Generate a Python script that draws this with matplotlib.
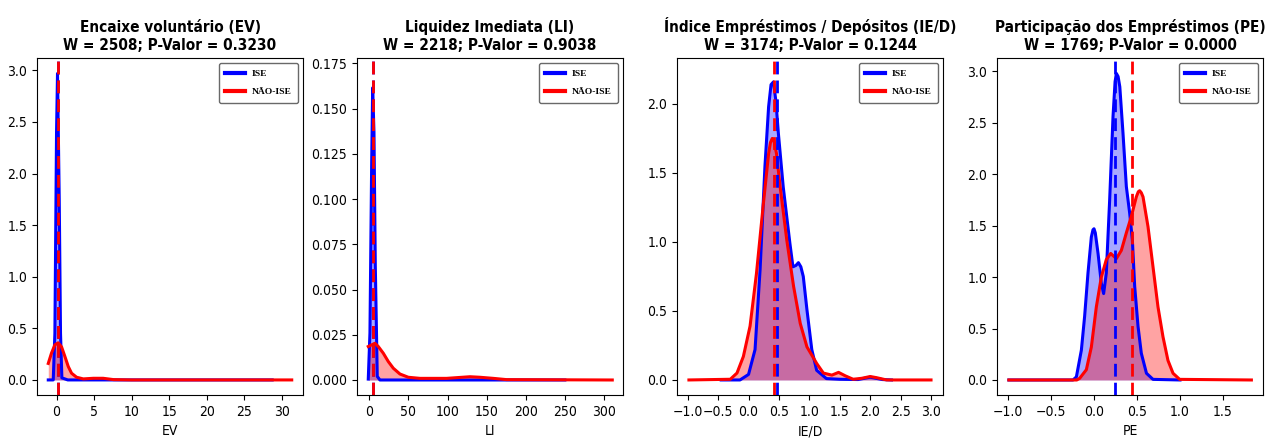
import numpy as np
import matplotlib
matplotlib.use("Agg")
import matplotlib.pyplot as plt

plt.rcParams['font.family'] = ['DejaVu Sans']
plt.rcParams['font.stretch'] = 'condensed'

# Titulos e estatisticas
titulos = ['Encaixe voluntário (EV)', 'Liquidez Imediata (LI)',
           'Índice Empréstimos / Depósitos (IE/D)', 'Participação dos Empréstimos (PE)']
rotulos = ['EV', 'LI', 'IE/D', 'PE']
w_stat = [2508, 2218, 3174, 1769]
p_valor = [0.3230, 0.9038, 0.1244, 0.0000]

# Densidades (x, densidade)
ev_ise_x = [-1.1, -0.44, -0.22, 0.0, 0.13, 0.36, 0.53, 0.71, 1.5, 28.7]
ev_ise_y = [0, 0, 0.45, 2.4, 2.97, 1.75, 0.45, 0.02, 0.0, 0.0]
ev_nao_x = [-1.1, -0.67, -0.22, 0.22, 0.67, 1.1, 1.56, 2.0, 2.67, 3.56, 4.9, 6.2, 7.6, 10, 31.3]
ev_nao_y = [0.16, 0.26, 0.34, 0.36, 0.32, 0.23, 0.13, 0.065, 0.026, 0.01, 0.016, 0.016, 0.003, 0.0, 0.0]

li_ise_x = [-1.3, 0.85, 3.0, 4.3, 6.0, 7.7, 10.2, 13.6, 250]
li_ise_y = [0.0005, 0.026, 0.118, 0.1615, 0.137, 0.063, 0.002, 0.0, 0.0]
li_nao_x = [-1.3, 3.0, 7.2, 11.5, 17.9, 24.3, 30.7, 39.2, 49.9, 64.8, 98.8, 128.7, 141.5, 158.5, 175.5, 310.6]
li_nao_y = [0.0185, 0.0194, 0.0203, 0.0185, 0.0148, 0.0102, 0.0065, 0.0033, 0.0015, 0.0009,
            0.0009, 0.0018, 0.0015, 0.0009, 0.0002, 0.0]

ied_ise_x = [-0.45, -0.14, 0.0, 0.107, 0.19, 0.27, 0.33, 0.37, 0.41, 0.45, 0.49, 0.57, 0.68, 0.73, 0.78, 0.82,
             0.86, 0.90, 0.96, 1.04, 1.12, 1.28, 1.5, 1.8, 2.0, 2.2, 2.35]
ied_ise_y = [0, 0, 0.04, 0.22, 0.80, 1.55, 1.98, 2.14, 2.16, 2.02, 1.79, 1.40, 0.99, 0.82, 0.83, 0.85,
             0.82, 0.75, 0.51, 0.22, 0.07, 0.01, 0.005, 0.003, 0.02, 0.003, 0]
ied_nao_x = [-0.98, -0.30, -0.19, -0.085, 0.025, 0.13, 0.24, 0.33, 0.36, 0.39, 0.42, 0.46, 0.52, 0.63, 0.74,
             0.85, 0.96, 1.04, 1.12, 1.23, 1.37, 1.48, 1.59, 1.72, 1.86, 2.0, 2.1, 2.27, 3.0]
ied_nao_y = [0, 0.005, 0.05, 0.17, 0.39, 0.77, 1.26, 1.64, 1.72, 1.75, 1.73, 1.64, 1.40, 1.01, 0.68,
             0.41, 0.24, 0.18, 0.12, 0.05, 0.035, 0.055, 0.03, 0.005, 0.012, 0.025, 0.017, 0, 0]

pe_ise_x = [-0.99, -0.244, -0.205, -0.147, -0.109, -0.07, -0.031, -0.012, 0.0, 0.015, 0.047, 0.085, 0.112,
            0.143, 0.182, 0.221, 0.245, 0.26, 0.28, 0.30, 0.337, 0.376, 0.415, 0.446, 0.473, 0.512, 0.55,
            0.61, 0.686, 1.0]
pe_ise_y = [0, 0, 0.03, 0.29, 0.62, 1.04, 1.39, 1.46, 1.47, 1.43, 1.23, 0.94, 0.84,
            1.04, 1.75, 2.56, 2.90, 2.98, 2.95, 2.85, 2.40, 1.88, 1.62, 1.36, 0.91, 0.52, 0.26,
            0.065, 0.006, 0]
pe_nao_x = [-0.99, -0.2, -0.167, -0.089, -0.031, 0.027, 0.085, 0.143, 0.194, 0.26, 0.318, 0.376,
            0.434, 0.492, 0.515, 0.531, 0.55, 0.57, 0.628, 0.686, 0.744, 0.802, 0.86, 0.919, 0.996, 1.83]
pe_nao_y = [0, 0, 0.016, 0.10, 0.32, 0.71, 1.0, 1.17, 1.23, 1.18, 1.26, 1.43,
            1.59, 1.78, 1.83, 1.84, 1.82, 1.78, 1.49, 1.10, 0.71, 0.42, 0.19, 0.065, 0.006, 0]

# Medianas (linhas tracejadas)
mediana_ise = [0.18, 4.6, 0.463, 0.24]
mediana_nao = [0.22, 5.1, 0.425, 0.446]

curvas = [
    (ev_ise_x, ev_ise_y, ev_nao_x, ev_nao_y),
    (li_ise_x, li_ise_y, li_nao_x, li_nao_y),
    (ied_ise_x, ied_ise_y, ied_nao_x, ied_nao_y),
    (pe_ise_x, pe_ise_y, pe_nao_x, pe_nao_y),
]
xlims = [(-2.6, 32.8), (-15.7, 324.3), (-1.176, 3.197), (-1.128, 1.965)]
ylims = [(-0.146, 3.12), (-0.0083, 0.178), (-0.109, 2.333), (-0.146, 3.13)]
xticks = [np.arange(0, 31, 5), np.arange(0, 301, 50), np.arange(-1.0, 3.01, 0.5), np.arange(-1.0, 1.51, 0.5)]
yfmt = ['%.1f', '%.3f', '%.1f', '%.1f']

W, H = 1267, 438
fig = plt.figure(figsize=(W / 100, H / 100), dpi=100)
lefts = [37, 357, 677, 997]

for i in range(4):
    ax = fig.add_axes([lefts[i] / W, 43 / H, 266 / W, 337 / H])
    xi, yi, xn, yn = curvas[i]
    ax.fill_between(xi, yi, color='blue', alpha=0.34, linewidth=0)
    ax.fill_between(xn, yn, color='red', alpha=0.36, linewidth=0)
    ax.plot(xi, yi, color='blue', lw=2.2, label='ISE', solid_joinstyle='round')
    ax.plot(xn, yn, color='red', lw=2.2, label='NÃO-ISE', solid_joinstyle='round')
    ax.axvline(mediana_ise[i], color='blue', ls=(0, (4.6, 2.2)), lw=2)
    ax.axvline(mediana_nao[i], color='red', ls=(0, (4.6, 2.2)), lw=2)
    ax.set_xlim(*xlims[i])
    ax.set_ylim(*ylims[i])
    ax.set_xticks(xticks[i])
    ax.yaxis.set_major_formatter(plt.FormatStrFormatter(yfmt[i]))
    ax.tick_params(labelsize=10)
    ax.set_xlabel(rotulos[i], fontsize=10)
    ax.set_title(f'{titulos[i]}\nW = {w_stat[i]}; P-Valor = {p_valor[i]:.4f}',
                 fontsize=11, fontweight='bold')
    leg = ax.legend(loc='upper right', prop={'family': 'Liberation Serif', 'weight': 'bold', 'size': 6.8},
                    borderaxespad=0.5, handlelength=2.1, handletextpad=0.7,
                    labelspacing=1.0, borderpad=0.7)
    for h in leg.get_lines():
        h.set_linewidth(3)
    leg.get_frame().set_edgecolor('#444444')

fig.savefig('out.png', dpi=100)
